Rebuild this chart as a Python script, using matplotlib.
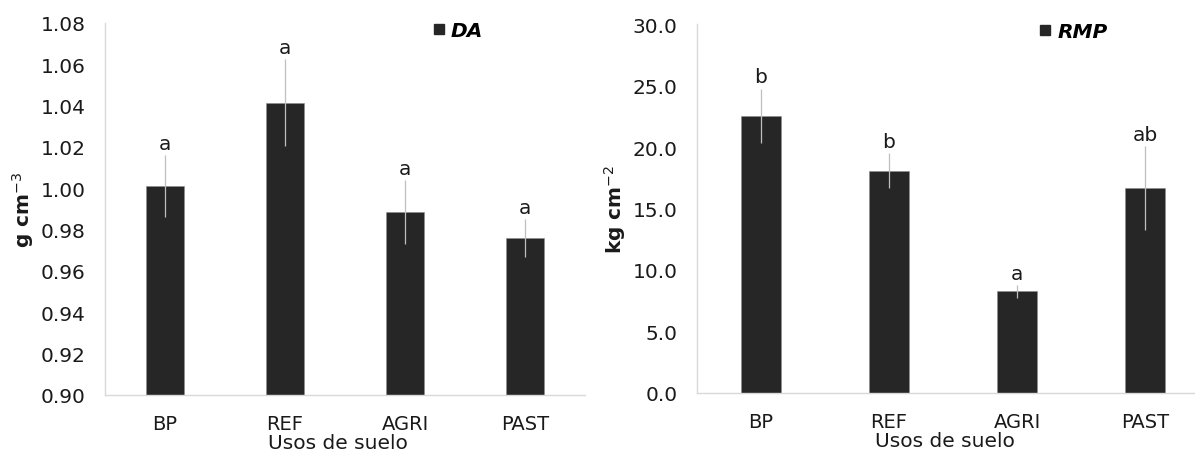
import matplotlib.pyplot as plt
from matplotlib.lines import Line2D
import numpy as np

# data
usos = ['BP', 'REF', 'AGRI', 'PAST']

da_media = [1.001, 1.0415, 0.9885, 0.976]
da_error = [0.015, 0.021, 0.0155, 0.009]
da_letras = ['a', 'a', 'a', 'a']

rmp_media = [22.55, 18.08, 8.26, 16.68]
rmp_error = [2.2, 1.44, 0.54, 3.4]
rmp_letras = ['b', 'b', 'a', 'ab']

plt.rcParams['font.family'] = 'DejaVu Sans'
plt.rcParams['font.size'] = 14

W, H = 1195, 456
fig = plt.figure(figsize=(W / 100, H / 100), dpi=100)

# axes in pixel coordinates -> figure fractions
def px_axes(x0, x1, ytop, ybot):
    return fig.add_axes([x0 / W, 1 - ybot / H, (x1 - x0) / W, (ybot - ytop) / H])

ax1 = px_axes(105, 585, 24, 396)
ax2 = px_axes(697, 1209, 25, 394)

bar_color = '#262626'
grey = '#d9d9d9'
err_color = '#bfbfbf'
txt = '#1a1a1a'


def draw_panel(ax, medias, errores, letras, ylim, yticks, fmt, ylabel, leyenda, leg_x):
    x = np.arange(len(usos))
    ax.bar(x, np.array(medias) - ylim[0], bottom=ylim[0], width=0.31,
           color=bar_color, edgecolor='#8c8c8c', linewidth=0.4, zorder=2)
    ax.errorbar(x, medias, yerr=errores, fmt='none', ecolor=err_color,
                elinewidth=0.9, capsize=0, zorder=3)
    for xi, m, e, l in zip(x, medias, errores, letras):
        ax.annotate(l, (xi, m + e), xytext=(0, 1.5), textcoords='offset points',
                    ha='center', va='bottom', fontsize=14.5, color=txt)
    ax.set_xlim(-0.5, len(usos) - 0.5)
    ax.set_ylim(*ylim)
    ax.set_yticks(yticks)
    ax.set_yticklabels([fmt.format(v) for v in yticks], fontsize=14.5)
    ax.set_xticks(x)
    ax.set_xticklabels(usos, fontsize=14)
    ax.tick_params(axis='both', length=0, colors=txt)
    ax.tick_params(axis='y', pad=14)
    ax.tick_params(axis='x', pad=14)
    for s in ['top', 'right']:
        ax.spines[s].set_visible(False)
    for s in ['left', 'bottom']:
        ax.spines[s].set_color(grey)
        ax.spines[s].set_linewidth(1.0)
    ax.set_xlabel('Usos de suelo', labelpad=0, x=0.485, fontsize=14.5, color=txt)
    ax.set_ylabel(ylabel, fontweight='bold', labelpad=3, fontsize=14.5, color=txt)
    h = Line2D([], [], marker='s', linestyle='', color=bar_color, markersize=7)
    ax.legend([h], [leyenda], loc='center left', bbox_to_anchor=(leg_x, 0.98),
              frameon=False, handlelength=0.5, handletextpad=0.35, borderpad=0,
              borderaxespad=0,
              prop={'weight': 'bold', 'style': 'italic', 'size': 14.5})


draw_panel(ax1, da_media, da_error, da_letras, (0.90, 1.08),
           np.round(np.arange(0.90, 1.081, 0.02), 2), '{:.2f}',
           'g cm$^{-3}$', 'DA', 0.685)
draw_panel(ax2, rmp_media, rmp_error, rmp_letras, (0.0, 30.0),
           np.arange(0, 30.1, 5.0), '{:.1f}',
           'kg cm$^{-2}$', 'RMP', 0.67)

fig.savefig('out.png', dpi=100)
